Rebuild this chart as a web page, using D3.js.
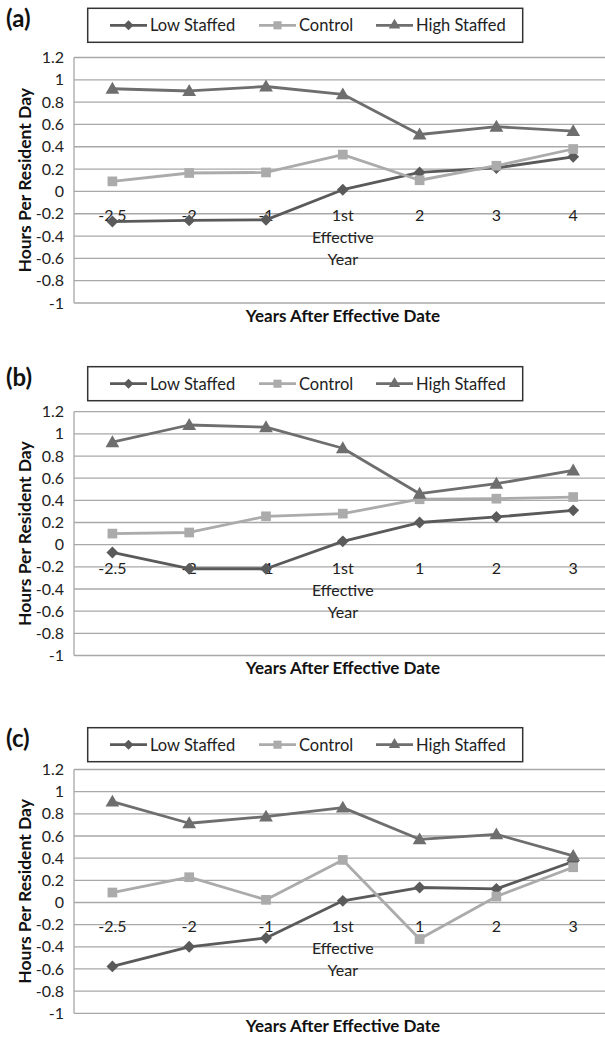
<!DOCTYPE html>
<html>
<head>
<meta charset="utf-8">
<script src="https://cdn.jsdelivr.net/npm/d3@7"></script>
<style>
  html, body { margin: 0; padding: 0; background: #fff; }
  svg { display: block; }
</style>
</head>
<body>
<svg id="chart" width="605" height="1037"></svg>
<script>
// ---------- data ----------
const panelLabels = ["(a)", "(b)", "(c)"];
const seriesNames = ["Low Staffed", "Control", "High Staffed"];
const categoriesA = ["-2.5", "-2", "-1", "1st|Effective|Year", "2", "3", "4"];
const categoriesBC = ["-2.5", "-2", "-1", "1st|Effective|Year", "1", "2", "3"];

const lowA     = [-0.27, -0.26, -0.255, 0.015, 0.17, 0.21, 0.31];
const controlA = [0.09, 0.165, 0.17, 0.33, 0.10, 0.23, 0.38];
const highA    = [0.92, 0.90, 0.94, 0.87, 0.51, 0.58, 0.54];

const lowB     = [-0.07, -0.217, -0.217, 0.03, 0.20, 0.25, 0.31];
const controlB = [0.10, 0.11, 0.256, 0.28, 0.41, 0.415, 0.43];
const highB    = [0.925, 1.08, 1.06, 0.87, 0.46, 0.55, 0.67];

const lowC     = [-0.577, -0.40, -0.32, 0.015, 0.135, 0.123, 0.37];
const controlC = [0.09, 0.228, 0.024, 0.384, -0.33, 0.054, 0.318];
const highC    = [0.91, 0.715, 0.775, 0.856, 0.57, 0.615, 0.42];

const yTickValues = [-1, -0.8, -0.6, -0.4, -0.2, 0, 0.2, 0.4, 0.6, 0.8, 1, 1.2];
const yTickLabels = ["-1", "-0.8", "-0.6", "-0.4", "-0.2", "0", "0.2", "0.4", "0.6", "0.8", "1", "1.2"];
const yAxisTitle = "Hours Per Resident Day";
const xAxisTitle = "Years After Effective Date";

// ---------- layout / style ----------
const FONT = "Lato, 'Open Sans', sans-serif";
const colors = ["#5a5a5a", "#ababab", "#6e6e6e"];
const markers = [d3.symbolDiamond2, d3.symbolSquare2, d3.symbolTriangle2];
const markerSizes = [90, 120, 135];

const panels = [
  { label: panelLabels[0], cats: categoriesA,  series: [lowA, controlA, highA], legendTop: 8.3,   plotTop: 57.5,  plotBottom: 303 },
  { label: panelLabels[1], cats: categoriesBC, series: [lowB, controlB, highB], legendTop: 366.7, plotTop: 411.7, plotBottom: 655.5 },
  { label: panelLabels[2], cats: categoriesBC, series: [lowC, controlC, highC], legendTop: 727.7, plotTop: 769.5, plotBottom: 1013.3 }
];

const plotLeft = 74;
const band = 76.8;

const svg = d3.select("#chart");

panels.forEach(p => {
  const g = svg.append("g");

  const x = d3.scaleBand()
    .domain(p.cats)
    .range([plotLeft, plotLeft + band * p.cats.length])
    .paddingInner(0).paddingOuter(0);
  const xc = c => x(c) + x.bandwidth() / 2;

  const y = d3.scaleLinear().domain([-1, 1.2]).range([p.plotBottom, p.plotTop]);

  // gridlines
  g.append("g").selectAll("line").data(yTickValues).join("line")
    .attr("x1", plotLeft).attr("x2", 620)
    .attr("y1", d => y(d)).attr("y2", d => y(d))
    .attr("stroke", "#a8a8a8").attr("stroke-width", 1.3);

  // left border
  g.append("line")
    .attr("x1", plotLeft).attr("x2", plotLeft)
    .attr("y1", y(1.2)).attr("y2", y(-1))
    .attr("stroke", "#a8a8a8").attr("stroke-width", 1.3);

  // y axis tick labels
  const yAxis = d3.axisLeft(y)
    .tickValues(yTickValues)
    .tickFormat((d, i) => yTickLabels[i])
    .tickSize(0).tickPadding(10);
  const ya = g.append("g").attr("transform", `translate(${plotLeft},0)`).call(yAxis);
  ya.select(".domain").remove();
  ya.selectAll("text").attr("font-family", FONT).attr("font-size", 16).attr("fill", "#222");

  // x axis category labels (placed below the zero line)
  const xAxis = d3.axisBottom(x).tickSize(0).tickPadding(0).tickFormat(() => "");
  const xa = g.append("g").attr("transform", `translate(0,${y(0)})`).call(xAxis);
  xa.select(".domain").remove();
  xa.selectAll(".tick").each(function(d) {
    const t = d3.select(this).select("text");
    t.text(null).attr("y", 0).attr("dy", null)
      .attr("font-family", FONT).attr("font-size", 16).attr("fill", "#222");
    d.split("|").forEach((ln, i) => {
      t.append("tspan").attr("x", 0).attr("y", 29.5 + i * 22).text(ln);
    });
  });

  // series lines + markers
  p.series.forEach((vals, si) => {
    const pts = vals.map((v, i) => [xc(p.cats[i]), y(v)]);
    g.append("path")
      .attr("d", d3.line()(pts))
      .attr("fill", "none")
      .attr("stroke", colors[si])
      .attr("stroke-width", 2.8)
      .attr("stroke-linejoin", "round");
    g.append("g").selectAll("path").data(pts).join("path")
      .attr("transform", d => `translate(${d[0]},${d[1] + (si === 2 ? 1 : 0)})`)
      .attr("d", d3.symbol(markers[si], markerSizes[si]))
      .attr("fill", colors[si]);
  });

  // y axis title
  g.append("text")
    .attr("transform", `translate(24,${(p.plotTop + p.plotBottom) / 2}) rotate(-90)`)
    .attr("text-anchor", "middle")
    .attr("dominant-baseline", "central")
    .attr("font-family", FONT).attr("font-weight", "bold").attr("font-size", 17.5)
    .attr("fill", "#111")
    .text(yAxisTitle);

  // x axis title
  g.append("text")
    .attr("x", 343).attr("y", p.plotBottom + 12)
    .attr("text-anchor", "middle")
    .attr("dominant-baseline", "central")
    .attr("font-family", FONT).attr("font-weight", "bold").attr("font-size", 17)
    .attr("fill", "#111")
    .text(xAxisTitle);

  // panel label
  g.append("text")
    .attr("x", 6).attr("y", p.legendTop + 19)
    .attr("font-family", FONT).attr("font-weight", "bold").attr("font-size", 24)
    .attr("fill", "#111")
    .text(p.label);

  // legend
  const lg = g.append("g");
  lg.append("rect")
    .attr("x", 87.7).attr("y", p.legendTop)
    .attr("width", 435).attr("height", 34)
    .attr("fill", "#fff").attr("stroke", "#333").attr("stroke-width", 1.5);
  const ly = p.legendTop + 17;
  const itemX = [110, 259, 376];
  seriesNames.forEach((name, si) => {
    const x0 = itemX[si];
    lg.append("line")
      .attr("x1", x0).attr("x2", x0 + 37)
      .attr("y1", ly).attr("y2", ly)
      .attr("stroke", colors[si]).attr("stroke-width", 2.8);
    lg.append("path")
      .attr("transform", `translate(${x0 + 18.5},${ly})`)
      .attr("d", d3.symbol(markers[si], markerSizes[si] * 0.7))
      .attr("fill", colors[si]);
    lg.append("text")
      .attr("x", x0 + 40).attr("y", ly)
      .attr("dominant-baseline", "central")
      .attr("font-family", FONT).attr("font-size", 16.5).attr("fill", "#222")
      .text(name);
  });
});
</script>
</body>
</html>
